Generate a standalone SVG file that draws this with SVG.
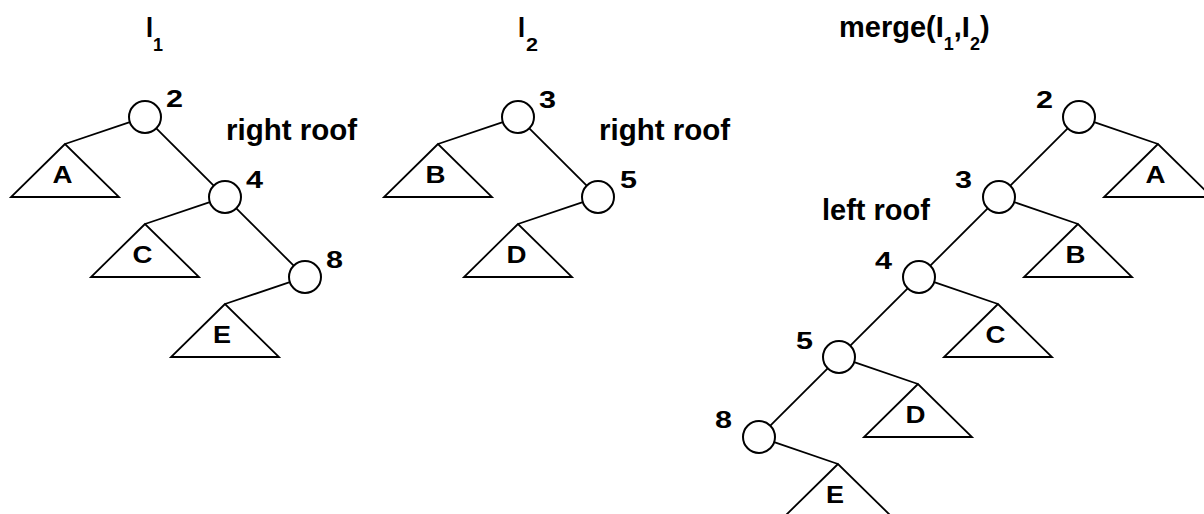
<svg xmlns="http://www.w3.org/2000/svg" width="1204" height="514" viewBox="0 0 1204 514">
<style>
text{font-family:"Liberation Sans",Arial,sans-serif;font-weight:bold;fill:#000}
.t{font-size:29px}
.s{font-size:18px}
.d{font-size:24px}
.l{font-size:24px;text-anchor:middle}
.lab{font-size:29.5px}
circle{fill:#fff;stroke:#000;stroke-width:2}
polygon{fill:none;stroke:#000;stroke-width:1.8;stroke-linejoin:miter}
#connectors line{stroke:#000;stroke-width:1.8}
</style>
<rect width="1204" height="514" fill="#fff"/>
<g id="titles">
<text class="t" x="146" y="37" textLength="7" lengthAdjust="spacingAndGlyphs">I</text>
<text class="s" x="153" y="51" textLength="10" lengthAdjust="spacingAndGlyphs">1</text>
<text class="t" x="518" y="37" textLength="7" lengthAdjust="spacingAndGlyphs">I</text>
<text class="s" x="526" y="51" textLength="12" lengthAdjust="spacingAndGlyphs">2</text>
<text class="t" x="839" y="37">merge(I<tspan class="s" dy="13">1</tspan><tspan dy="-13">,I</tspan><tspan class="s" dy="13">2</tspan><tspan dy="-13">)</tspan></text>
<text class="lab" x="226" y="140">right roof</text>
<text class="lab" x="599" y="140">right roof</text>
<text class="lab" x="822" y="220" style="font-size:29px">left roof</text>
</g>
<g id="connectors">
<line x1="129.8" y1="122.1" x2="65" y2="144"/>
<line x1="156.3" y1="128.3" x2="213.7" y2="185.7"/>
<line x1="209.8" y1="202.1" x2="145" y2="224"/>
<line x1="236.3" y1="208.3" x2="293.7" y2="265.7"/>
<line x1="289.8" y1="282.1" x2="225" y2="304"/>
<line x1="502.8" y1="122.1" x2="438" y2="144"/>
<line x1="529.3" y1="128.3" x2="586.7" y2="185.7"/>
<line x1="582.8" y1="202.1" x2="518" y2="224"/>
<line x1="1094.2" y1="122.1" x2="1158" y2="144"/>
<line x1="1067.7" y1="128.3" x2="1010.3" y2="185.7"/>
<line x1="1014.2" y1="202.1" x2="1078" y2="224"/>
<line x1="987.7" y1="208.3" x2="930.3" y2="265.7"/>
<line x1="934.2" y1="282.1" x2="998" y2="304"/>
<line x1="907.7" y1="288.3" x2="850.3" y2="345.7"/>
<line x1="854.2" y1="362.1" x2="918" y2="384"/>
<line x1="827.7" y1="368.3" x2="770.3" y2="425.7"/>
<line x1="774.2" y1="442.1" x2="838" y2="464"/>
</g>
<g id="t1-n2"><circle cx="145" cy="117" r="16"/><text class="d" x="166" y="107" textLength="17" lengthAdjust="spacingAndGlyphs">2</text></g>
<g id="t1-n4"><circle cx="225" cy="197" r="16"/><text class="d" x="246" y="188" textLength="17" lengthAdjust="spacingAndGlyphs">4</text></g>
<g id="t1-n8"><circle cx="305" cy="277" r="16"/><text class="d" x="326" y="268" textLength="17" lengthAdjust="spacingAndGlyphs">8</text></g>
<g id="t1-A"><polygon points="65,144 11,197 119,197"/><text class="l" x="62.5" y="183" textLength="20" lengthAdjust="spacingAndGlyphs">A</text></g>
<g id="t1-C"><polygon points="145,224 91,277 199,277"/><text class="l" x="142.5" y="263" textLength="20" lengthAdjust="spacingAndGlyphs">C</text></g>
<g id="t1-E"><polygon points="225,304 171,357 279,357"/><text class="l" x="222" y="343" textLength="18" lengthAdjust="spacingAndGlyphs">E</text></g>
<g id="t2-n3"><circle cx="518" cy="117" r="16"/><text class="d" x="539" y="108" textLength="17" lengthAdjust="spacingAndGlyphs">3</text></g>
<g id="t2-n5"><circle cx="598" cy="197" r="16"/><text class="d" x="620" y="188" textLength="17" lengthAdjust="spacingAndGlyphs">5</text></g>
<g id="t2-B"><polygon points="438,144 384,197 492,197"/><text class="l" x="435.5" y="183" textLength="20" lengthAdjust="spacingAndGlyphs">B</text></g>
<g id="t2-D"><polygon points="518,224 464,277 572,277"/><text class="l" x="516.5" y="263" textLength="20" lengthAdjust="spacingAndGlyphs">D</text></g>
<g id="t3-n2"><circle cx="1079" cy="117" r="16"/><text class="d" x="1036" y="108" textLength="17" lengthAdjust="spacingAndGlyphs">2</text></g>
<g id="t3-n3"><circle cx="999" cy="197" r="16"/><text class="d" x="955" y="188" textLength="17" lengthAdjust="spacingAndGlyphs">3</text></g>
<g id="t3-n4"><circle cx="919" cy="277" r="16"/><text class="d" x="875" y="269" textLength="17" lengthAdjust="spacingAndGlyphs">4</text></g>
<g id="t3-n5"><circle cx="839" cy="357" r="16"/><text class="d" x="796" y="349" textLength="17" lengthAdjust="spacingAndGlyphs">5</text></g>
<g id="t3-n8"><circle cx="759" cy="437" r="16"/><text class="d" x="715" y="428" textLength="17" lengthAdjust="spacingAndGlyphs">8</text></g>
<g id="t3-A"><polygon points="1158,144 1104,197 1212,197"/><text class="l" x="1155.5" y="183" textLength="20" lengthAdjust="spacingAndGlyphs">A</text></g>
<g id="t3-B"><polygon points="1078,224 1024,277 1132,277"/><text class="l" x="1075.5" y="263" textLength="20" lengthAdjust="spacingAndGlyphs">B</text></g>
<g id="t3-C"><polygon points="998,304 944,357 1052,357"/><text class="l" x="995.5" y="343" textLength="20" lengthAdjust="spacingAndGlyphs">C</text></g>
<g id="t3-D"><polygon points="918,384 864,437 972,437"/><text class="l" x="915.5" y="423" textLength="20" lengthAdjust="spacingAndGlyphs">D</text></g>
<g id="t3-E"><polygon points="838,464 784,517 892,517"/><text class="l" x="835" y="503" textLength="18" lengthAdjust="spacingAndGlyphs">E</text></g>
</svg>
